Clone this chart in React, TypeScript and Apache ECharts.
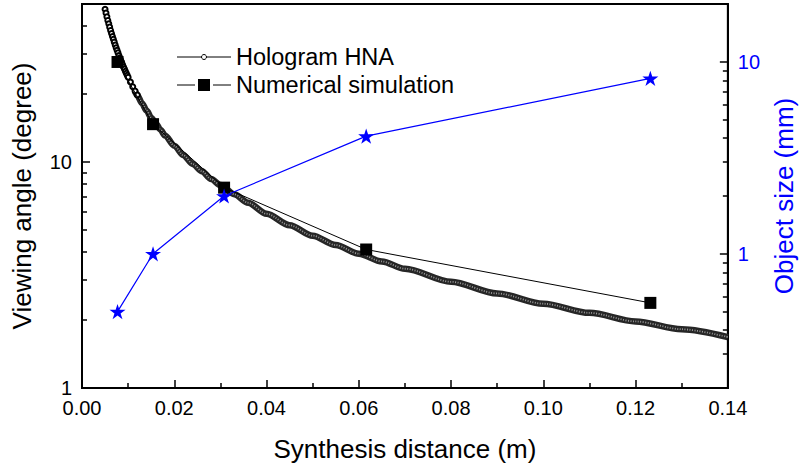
import React, { useEffect, useRef } from "react";
import * as echarts from "echarts";

// ---- data ----
// Hologram HNA curve, upper part (individual circles visible)
const hnaTopX = [
  0.005, 0.0052, 0.0054, 0.0056, 0.0058, 0.006, 0.0062, 0.0064, 0.0066, 0.0068,
  0.007, 0.0072, 0.0074, 0.0076, 0.0078, 0.008, 0.0082, 0.0084, 0.0086, 0.0088,
  0.009, 0.0092, 0.0094, 0.0096, 0.0098, 0.01, 0.0105, 0.011, 0.0115, 0.012,
];
const hnaTopY = [
  47.4, 45.6, 43.9, 42.3, 40.9, 39.5, 38.2, 37.0, 35.9, 34.9,
  33.9, 32.9, 32.0, 31.2, 30.4, 29.6, 28.9, 28.2, 27.6, 26.9,
  26.3, 25.8, 25.2, 24.7, 24.2, 23.7, 22.6, 21.5, 20.6, 19.8,
];
// Hologram HNA curve, lower part (circles merge into a dense band)
const hnaBandX = [
  0.0115, 0.012, 0.013, 0.014, 0.015, 0.016, 0.017, 0.018, 0.02, 0.022,
  0.024, 0.026, 0.028, 0.03, 0.033, 0.036, 0.04, 0.045, 0.05, 0.055,
  0.06, 0.065, 0.07, 0.08, 0.09, 0.1, 0.11, 0.12, 0.13, 0.14,
];
const hnaBandY = [
  20.5, 19.7, 18.2, 16.9, 15.7, 14.8, 13.9, 13.1, 11.8, 10.7,
  9.8, 9.1, 8.4, 7.9, 7.2, 6.6, 5.9, 5.25, 4.72, 4.29,
  3.93, 3.63, 3.37, 2.95, 2.62, 2.36, 2.15, 1.97, 1.82, 1.68,
];
// Numerical simulation & object size
const distances = [0.0077, 0.0154, 0.0308, 0.0616, 0.1232];
const simAngle = [27.7, 14.7, 7.7, 4.1, 2.38];
const objectSize = [0.5, 1.0, 2.0, 4.1, 8.2];

// axis decorations (tick values of the two log axes)
const leftMajorTicks = [1, 10];
const rightMajorTicks = [1, 10];
const leftMinorTicks = [2, 3, 4, 5, 6, 7, 8, 9, 20, 30, 40];
const rightMinorTicks = [0.3, 0.4, 0.5, 0.6, 0.7, 0.8, 0.9, 2, 3, 4, 5, 6, 7, 8, 9];

const FONT = "'Liberation Sans', Arial, Helvetica, sans-serif";
const BLUE = "#0000ff";
const STAR =
  "path://M50,0 L61.23,34.55 L97.55,34.55 L68.16,55.9 L79.39,90.45 L50,69.1 L20.61,90.45 L31.84,55.9 L2.45,34.55 L38.77,34.55 Z";

const decadeLabel = (v: number) => {
  const l = Math.log10(v);
  return Math.abs(l - Math.round(l)) < 1e-6 ? String(Math.round(v)) : "";
};

const minorAxis = (min: number, max: number, position: string, values: number[]) => ({
  type: "log",
  logBase: 10,
  min,
  max,
  position,
  axisLine: { show: false },
  axisLabel: { show: false },
  splitLine: { show: false },
  axisTick: {
    show: true,
    inside: true,
    length: 5,
    customValues: values,
    lineStyle: { color: "#000", width: 1.5 },
  },
});

export default function App() {
  const ref = useRef<HTMLDivElement>(null);

  useEffect(() => {
    if (!ref.current) return;
    const chart = echarts.init(ref.current, undefined, { renderer: "svg" });

    const bandData = hnaBandX.map((x, i) => [x, hnaBandY[i]]);

    chart.setOption({
      animation: false,
      backgroundColor: "#fff",
      textStyle: { fontFamily: FONT },
      grid: {
        left: 82,
        right: 67,
        top: 4,
        bottom: 84,
        show: true,
        borderColor: "#000",
        borderWidth: 2,
        backgroundColor: "transparent",
      },
      xAxis: {
        type: "value",
        min: 0,
        max: 0.14,
        interval: 0.02,
        axisLine: { show: true, lineStyle: { color: "#000", width: 2 } },
        axisTick: { show: true, inside: true, length: 8, lineStyle: { color: "#000", width: 1.5 } },
        minorTick: { show: true, splitNumber: 2, length: 5, lineStyle: { color: "#000", width: 1.5 } },
        splitLine: { show: false },
        minorSplitLine: { show: false },
        axisLabel: {
          fontSize: 20,
          color: "#000",
          margin: 10,
          fontFamily: FONT,
          formatter: (v: number) => v.toFixed(2),
        },
        name: "Synthesis distance (m)",
        nameLocation: "middle",
        nameGap: 48,
        nameTextStyle: { fontSize: 26, color: "#000", fontFamily: FONT },
      },
      yAxis: [
        {
          type: "log",
          logBase: 10,
          min: 1,
          max: 50,
          position: "left",
          axisLine: { show: true, lineStyle: { color: "#000", width: 2 } },
          axisTick: {
            show: true,
            inside: true,
            length: 8,
            customValues: leftMajorTicks,
            lineStyle: { color: "#000", width: 1.5 },
          },
          splitLine: { show: false },
          axisLabel: {
            fontSize: 20,
            color: "#000",
            margin: 10,
            fontFamily: FONT,
            formatter: decadeLabel,
          },
          name: "Viewing angle (degree)",
          nameLocation: "middle",
          nameGap: 47,
          nameTextStyle: { fontSize: 26, color: "#000", fontFamily: FONT },
        },
        {
          type: "log",
          logBase: 10,
          min: 0.2,
          max: 20,
          position: "right",
          axisLine: { show: true, lineStyle: { color: "#000", width: 2 } },
          axisTick: {
            show: true,
            inside: true,
            length: 8,
            customValues: rightMajorTicks,
            lineStyle: { color: "#000", width: 1.5 },
          },
          splitLine: { show: false },
          axisLabel: {
            fontSize: 20,
            color: BLUE,
            margin: 10,
            fontFamily: FONT,
            formatter: decadeLabel,
          },
          name: "Object size (mm)",
          nameLocation: "middle",
          nameGap: 42,
          nameTextStyle: { fontSize: 26, color: BLUE, fontFamily: FONT },
        },
        minorAxis(1, 50, "left", leftMinorTicks),
        minorAxis(0.2, 20, "right", rightMinorTicks),
      ],
      series: [
        {
          name: "HNA band",
          type: "line",
          data: bandData,
          smooth: 0.3,
          smoothMonotone: "x",
          symbol: "none",
          silent: true,
          lineStyle: { color: "#262626", width: 6.5 },
          z: 2,
        },
        {
          name: "HNA band inner",
          type: "line",
          data: bandData,
          smooth: 0.3,
          smoothMonotone: "x",
          symbol: "none",
          silent: true,
          lineStyle: { color: "#9a9a9a", width: 1.8, type: [1, 1.5] },
          z: 3,
        },
        {
          name: "Hologram HNA",
          type: "line",
          data: hnaTopX.map((x, i) => [x, hnaTopY[i]]),
          symbol: "emptyCircle",
          symbolSize: 5,
          showAllSymbol: true,
          itemStyle: { color: "#000", borderWidth: 1 },
          lineStyle: { color: "#000", width: 1 },
          z: 4,
        },
        {
          name: "Numerical simulation",
          type: "line",
          data: distances.map((x, i) => [x, simAngle[i]]),
          symbol: "rect",
          symbolSize: 12,
          itemStyle: { color: "#000" },
          lineStyle: { color: "#000", width: 1 },
          z: 5,
        },
        {
          name: "Object size",
          type: "line",
          yAxisIndex: 1,
          data: distances.map((x, i) => [x, objectSize[i]]),
          symbol: STAR,
          symbolSize: 16,
          symbolKeepAspect: true,
          itemStyle: { color: BLUE },
          lineStyle: { color: BLUE, width: 1.2 },
          z: 6,
        },
      ],
      graphic: [
        { type: "line", shape: { x1: 177, y1: 57, x2: 231, y2: 57 }, style: { stroke: "#000", lineWidth: 1 }, z: 20 },
        { type: "circle", shape: { cx: 204, cy: 57, r: 2.5 }, style: { fill: "#fff", stroke: "#000", lineWidth: 1 }, z: 21 },
        {
          type: "text",
          x: 236,
          y: 57,
          style: { text: "Hologram HNA", fontSize: 23.5, fontFamily: FONT, fill: "#000", verticalAlign: "middle" },
          z: 21,
        },
        { type: "line", shape: { x1: 177, y1: 85, x2: 195, y2: 85 }, style: { stroke: "#000", lineWidth: 1 }, z: 20 },
        { type: "line", shape: { x1: 213, y1: 85, x2: 231, y2: 85 }, style: { stroke: "#000", lineWidth: 1 }, z: 20 },
        { type: "rect", shape: { x: 198, y: 79, width: 12, height: 12 }, style: { fill: "#000" }, z: 21 },
        {
          type: "text",
          x: 236,
          y: 85,
          style: { text: "Numerical simulation", fontSize: 23.5, fontFamily: FONT, fill: "#000", verticalAlign: "middle" },
          z: 21,
        },
      ],
    });

    return () => chart.dispose();
  }, []);

  return (
    <div
      ref={ref}
      style={{ position: "fixed", left: 0, top: 0, width: 805, height: 472, background: "#fff" }}
    />
  );
}
